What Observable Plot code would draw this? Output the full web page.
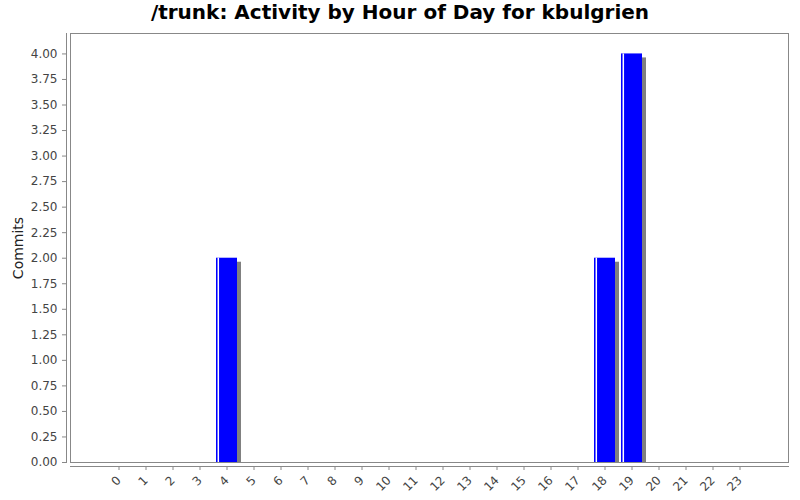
<!DOCTYPE html>
<html>
<head>
<meta charset="utf-8">
<script src="https://cdn.jsdelivr.net/npm/d3@7"></script>
<script src="https://cdn.jsdelivr.net/npm/@observablehq/plot@0.6"></script>
<style>
  html, body { margin: 0; padding: 0; background: #fff; }
  #title { height: 30px; line-height: 28px; text-align: center; font: bold 20px "DejaVu Sans", sans-serif; color: #000; }
  #chart svg { display: block; }
</style>
</head>
<body>
<div id="title">/trunk: Activity by Hour of Day for kbulgrien</div>
<div id="chart"></div>
<script>
const hours = d3.range(0, 24).map(String);
const commits = [0,0,0,0,2,0,0,0,0,0,0,0,0,0,0,0,0,0,2,4,0,0,0,0];
const yTicks = d3.range(0, 4.01, 0.25);

const data = hours.map((h, i) => ({hour: h, commits: commits[i]}));

const plot = Plot.plot({
  width: 800,
  height: 470,
  marginLeft: 70,
  marginRight: 12,
  marginTop: 3,
  marginBottom: 38,
  style: {fontFamily: "DejaVu Sans, sans-serif", fontSize: "12px", color: "#444", background: "#fff"},
  x: {type: "band", domain: hours, range: [106.4, 752.5], paddingInner: 0.22, paddingOuter: 0, align: 0.5},
  y: {domain: [0, 4.2]},
  marks: [
    Plot.barY(data, {x: "hour", y: "commits", fill: "#808080", dx: 4, dy: 4, insetBottom: 4}),
    Plot.barY(data, {x: "hour", y: "commits", fill: "#0000ff"}),
    Plot.ruleX(data.filter(d => d.commits > 0), {x: "hour", y1: 0, y2: "commits", stroke: "#ffffff", strokeWidth: 1.5, dx: -8.7}),
    Plot.frame({stroke: "#888"}),
    Plot.frame({anchor: "left", dx: -4, stroke: "#888"}),
    Plot.frame({anchor: "bottom", dy: 4, stroke: "#888"}),
    Plot.axisY({ticks: yTicks, tickFormat: d3.format(".2f"), tickSize: 4, dx: -4, stroke: "#888", fill: "#444", label: null}),
    Plot.axisY({ticks: [], label: "Commits", labelAnchor: "center", labelArrow: "none", labelOffset: 57, fontSize: 14, fill: "#222"}),
    Plot.axisX({tickSize: 4, dy: 4, tickRotate: -45, stroke: "#888", fill: "#444", label: null})
  ]
});
document.getElementById("chart").appendChild(plot);
</script>
</body>
</html>
